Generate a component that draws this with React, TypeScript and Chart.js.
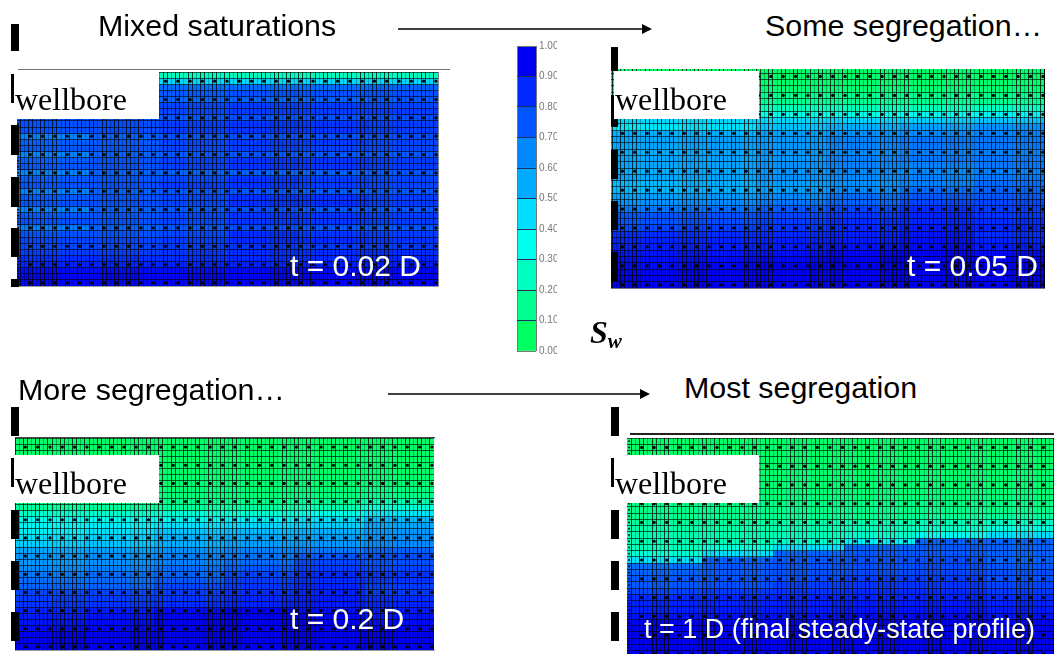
import React, { useEffect, useRef } from "react";
import { Chart, registerables } from "chart.js";

Chart.register(...registerables);

// Saturation legend
const swBinColors = ["#00ff60", "#00ff90", "#00ffc0", "#00ffee", "#00ddff", "#00aaff", "#0088ff", "#0055ff", "#0028ff", "#0000f0"];
const swBinCentres = [0.05, 0.15, 0.25, 0.35, 0.45, 0.55, 0.65, 0.75, 0.85, 0.95];
const swTickValues = [0, 0.1, 0.2, 0.3, 0.4, 0.5, 0.6, 0.7, 0.8, 0.9, 1];

// Vertical grid-line strength repeating over three columns
const gridLineAlpha = [0.78, 0.74, 0.3];

// Sw per grid row (top to bottom), six zones left to right
const rowsA = [
  [.25,.25,.25,.25,.25,.25],[.46,.46,.46,.46,.46,.46],[.70,.70,.70,.70,.70,.72],[.74,.74,.74,.76,.76,.76],[.72,.72,.72,.72,.72,.74],
  [.76,.76,.78,.80,.80,.78],[.76,.76,.78,.80,.80,.80],[.74,.74,.74,.75,.75,.76],[.76,.77,.80,.82,.82,.80],[.76,.77,.80,.82,.82,.80],
  [.66,.72,.74,.75,.75,.76],[.73,.74,.78,.80,.80,.78],[.74,.75,.78,.80,.79,.78],[.66,.72,.74,.74,.74,.74],[.73,.75,.79,.82,.82,.80],
  [.74,.75,.79,.82,.82,.80],[.66,.72,.72,.72,.72,.74],[.74,.75,.78,.82,.80,.78],[.75,.76,.80,.82,.80,.78],[.66,.72,.74,.74,.73,.74],
  [.74,.75,.78,.83,.83,.80],[.75,.76,.78,.83,.83,.80],[.66,.72,.74,.76,.74,.74],[.74,.75,.78,.82,.82,.80],[.76,.76,.78,.82,.82,.80],
  [.67,.72,.74,.76,.74,.74],[.76,.76,.78,.84,.82,.80],[.78,.78,.80,.84,.84,.82],[.78,.78,.80,.82,.80,.80],[.80,.80,.82,.84,.84,.84],
  [.84,.84,.84,.85,.85,.86],[.86,.86,.86,.86,.88,.88],[.92,.92,.92,.93,.93,.93],[.94,.94,.94,.94,.94,.94],[.93,.93,.93,.94,.94,.94],
];
const rowsB = [
  [.07,.07,.07,.07,.07,.07],[.07,.07,.07,.07,.07,.07],[.08,.08,.08,.08,.08,.08],[.10,.10,.10,.10,.10,.10],[.14,.14,.14,.14,.14,.14],
  [.16,.16,.16,.16,.16,.16],[.24,.24,.24,.24,.24,.26],[.34,.34,.34,.34,.36,.38],[.46,.46,.46,.47,.48,.50],[.42,.44,.50,.54,.58,.62],
  [.54,.54,.58,.62,.64,.66],[.56,.58,.60,.66,.68,.68],[.56,.58,.60,.66,.68,.68],[.54,.56,.60,.64,.66,.66],[.56,.57,.60,.66,.68,.68],
  [.56,.57,.62,.66,.66,.68],[.54,.56,.60,.64,.64,.66],[.56,.57,.62,.64,.66,.68],[.52,.54,.58,.62,.66,.70],[.52,.54,.58,.64,.70,.72],
  [.58,.60,.64,.70,.74,.74],[.62,.64,.68,.72,.78,.78],[.68,.70,.74,.78,.84,.80],[.75,.76,.78,.82,.86,.82],[.75,.77,.80,.84,.86,.84],
  [.78,.80,.82,.85,.88,.86],[.84,.84,.85,.87,.90,.84],[.86,.86,.87,.88,.91,.86],[.87,.87,.88,.90,.92,.88],[.90,.90,.91,.94,.95,.93],
  [.91,.92,.93,.95,.96,.95],[.92,.93,.95,.96,.96,.96],[.94,.95,.96,.97,.97,.97],[.96,.96,.96,.96,.96,.96],[.97,.97,.97,.97,.97,.97],
];
const rowsC = [
  [.07,.07,.07,.07,.07,.07],[.07,.07,.07,.07,.07,.07],[.07,.07,.07,.07,.07,.07],[.07,.07,.07,.07,.07,.07],[.08,.08,.08,.08,.08,.08],
  [.08,.08,.08,.08,.08,.08],[.09,.09,.09,.09,.09,.09],[.09,.09,.09,.09,.09,.10],[.10,.10,.10,.10,.10,.12],[.11,.11,.11,.11,.12,.14],
  [.14,.14,.14,.14,.16,.22],[.18,.18,.18,.19,.22,.30],[.28,.28,.30,.30,.34,.42],[.36,.36,.38,.40,.44,.52],[.38,.40,.44,.46,.48,.56],
  [.40,.44,.50,.52,.54,.60],[.44,.48,.54,.56,.58,.62],[.48,.50,.54,.58,.60,.64],[.56,.58,.62,.66,.68,.72],[.60,.62,.66,.68,.74,.76],
  [.60,.62,.66,.70,.78,.76],[.64,.66,.70,.74,.80,.78],[.68,.70,.72,.78,.84,.82],[.70,.70,.74,.80,.84,.82],[.72,.72,.78,.82,.86,.80],
  [.78,.78,.80,.83,.86,.80],[.80,.80,.82,.85,.88,.84],[.82,.82,.84,.86,.88,.86],[.86,.88,.92,.96,.92,.88],[.88,.90,.94,.97,.94,.90],
  [.90,.92,.95,.97,.96,.92],[.92,.93,.95,.96,.96,.94],[.95,.96,.97,.97,.97,.96],[.96,.96,.97,.97,.97,.97],[.96,.96,.96,.96,.96,.96],
];
const rowsD = [
  [.07,.07,.07,.07,.07,.07],[.07,.07,.07,.07,.07,.07],[.07,.07,.07,.07,.07,.07],[.07,.07,.07,.07,.07,.07],[.08,.08,.08,.08,.08,.08],
  [.08,.08,.08,.08,.08,.08],[.09,.09,.09,.09,.09,.09],[.09,.09,.09,.09,.09,.09],[.10,.10,.10,.10,.10,.10],[.11,.11,.11,.11,.11,.11],
  [.13,.13,.13,.13,.13,.13],[.14,.14,.14,.14,.14,.14],[.15,.15,.15,.15,.16,.18],[.18,.18,.20,.22,.24,.26],[.20,.20,.22,.24,.26,.32],
  [.22,.22,.24,.28,.36,.44],[.23,.24,.28,.40,.72,.72],[.24,.30,.44,.72,.74,.72],[.30,.44,.72,.74,.74,.72],[.44,.72,.74,.75,.76,.72],
  [.70,.74,.75,.76,.77,.74],[.72,.74,.76,.77,.78,.76],[.74,.75,.77,.80,.80,.76],[.74,.76,.80,.82,.82,.78],[.78,.80,.82,.84,.84,.80],
  [.84,.85,.86,.86,.86,.84],[.86,.86,.87,.88,.88,.86],[.87,.88,.88,.90,.90,.88],[.90,.90,.90,.92,.92,.90],[.94,.94,.94,.95,.95,.94],
  [.96,.96,.96,.96,.96,.96],[.96,.96,.97,.97,.97,.96],[.97,.97,.97,.97,.97,.97],[.97,.97,.97,.97,.97,.97],[.97,.97,.97,.97,.97,.97],
];

const titleLabels = ["Mixed saturations", "Some segregation…", "More segregation…", "Most segregation"];
const timeLabels = ["t = 0.02 D", "t = 0.05 D", "t = 0.2 D", "t = 1 D (final steady-state profile)"];

function swColor(v: number): string {
  const toRgb = (h: string) => [1, 3, 5].map((i) => parseInt(h.slice(i, i + 2), 16));
  if (v <= swBinCentres[0]) return swBinColors[0];
  for (let i = 1; i < swBinCentres.length; i++) {
    if (v <= swBinCentres[i]) {
      const t = (v - swBinCentres[i - 1]) / (swBinCentres[i] - swBinCentres[i - 1]);
      const a = toRgb(swBinColors[i - 1]);
      const b = toRgb(swBinColors[i]);
      return `rgb(${a.map((c, k) => Math.round(c + (b[k] - c) * t)).join(",")})`;
    }
  }
  return swBinColors[swBinColors.length - 1];
}

type PanelProps = {
  rows: number[][];
  columns: number;
  box: { left: number; top: number; width: number; height: number };
  clip: { left: number; top: number; right: number; bottom: number };
};

function Panel({ rows, columns, box, clip }: PanelProps) {
  const ref = useRef<HTMLCanvasElement>(null);
  useEffect(() => {
    const labels = Array.from({ length: columns }, (_, i) => i);
    const zones = rows[0].length;
    const rowSets: any[] = rows.map((row) => ({
      type: "bar",
      data: labels.map(() => 1),
      backgroundColor: labels.map((c) => swColor(row[Math.floor((c / columns) * zones)])),
      barPercentage: 1,
      categoryPercentage: 1,
      borderWidth: 0,
      order: 2,
    }));
    const dots: { x: number; y: number }[] = [];
    rows.forEach((_, r) => {
      labels.forEach((c) => {
        if (c === 0 || (c % 3 === 0 && r % 3 === 1)) dots.push({ x: c, y: r + 0.5 });
      });
    });
    const chart = new Chart(ref.current!, {
      type: "bar",
      data: {
        labels,
        datasets: [
          ...rowSets,
          {
            type: "line",
            data: dots,
            showLine: false,
            pointStyle: "circle",
            pointRadius: (ctx: any) => (ctx.raw.x === 0 ? 0.9 : 1.6),
            pointBackgroundColor: "#000",
            pointBorderWidth: 0,
            order: 1,
          } as any,
        ],
      },
      options: {
        animation: false,
        responsive: false,
        layout: { padding: 0, autoPadding: false },
        plugins: { legend: { display: false }, tooltip: { enabled: false } },
        scales: {
          x: {
            stacked: true,
            offset: true,
            border: { display: false },
            ticks: { display: false, autoSkip: false },
            grid: {
              z: 1,
              offset: true,
              drawTicks: false,
              lineWidth: 1,
              color: (ctx: any) => `rgba(0,0,0,${gridLineAlpha[ctx.index % gridLineAlpha.length]})`,
            },
          },
          y: {
            stacked: true,
            reverse: true,
            min: 0,
            max: rows.length,
            border: { display: false },
            ticks: { display: false, stepSize: 1, maxTicksLimit: 200 },
            grid: { z: 1, drawTicks: false, lineWidth: 1, color: "rgba(0,0,0,0.62)" },
          },
        },
      } as any,
    });
    return () => chart.destroy();
  }, [rows, columns, box.width, box.height]);
  return (
    <div style={{ position: "absolute", left: clip.left, top: clip.top, width: clip.right - clip.left, height: clip.bottom - clip.top, overflow: "hidden" }}>
      <canvas
        ref={ref}
        width={box.width}
        height={box.height}
        style={{ position: "absolute", left: box.left - clip.left, top: box.top - clip.top, width: box.width, height: box.height, filter: "blur(0.3px)" }}
      />
    </div>
  );
}

function ColorBar() {
  const ref = useRef<HTMLCanvasElement>(null);
  useEffect(() => {
    const chart = new Chart(ref.current!, {
      type: "bar",
      data: {
        labels: ["Sw"],
        datasets: swBinColors.map((c) => ({
          data: [0.1],
          backgroundColor: c,
          barPercentage: 1,
          categoryPercentage: 1,
          borderWidth: 0,
        })),
      },
      options: {
        animation: false,
        responsive: false,
        layout: { padding: { top: 3, bottom: 3, left: 1, right: 0 }, autoPadding: false },
        plugins: { legend: { display: false }, tooltip: { enabled: false } },
        scales: {
          x: {
            stacked: true,
            border: { display: false },
            ticks: { display: false },
            grid: { drawTicks: false, color: "#777", z: 1 },
          },
          y: {
            stacked: true,
            position: "right",
            min: 0,
            max: 1,
            afterBuildTicks: (s: any) => {
              s.ticks = swTickValues.map((value) => ({ value }));
            },
            afterFit: (s: any) => {
              s.width = 21;
            },
            border: { display: false },
            ticks: {
              padding: 3,
              color: "#777",
              font: { family: "Liberation Sans", size: 10 },
              callback: (v: any) => Number(v).toFixed(2),
            },
            grid: {
              z: 1,
              drawTicks: false,
              color: (ctx: any) => (ctx.tick.value === 0 || ctx.tick.value === 1 ? "#777" : "#1a3060"),
            },
          },
        },
      } as any,
    });
    return () => chart.destroy();
  }, []);
  return <canvas ref={ref} width={41} height={323} style={{ position: "absolute", left: 516, top: 37, width: 41, height: 323 }} />;
}

const Text = ({ x, y, size, color = "#000", font = "Liberation Sans", children, style }: any) => (
  <div style={{ position: "absolute", left: x, top: y, transform: "translateY(-50%)", fontFamily: font, fontSize: size, color, whiteSpace: "nowrap", lineHeight: 1, ...style }}>{children}</div>
);

const Rect = ({ x, y, w, h, c = "#000" }: any) => <div style={{ position: "absolute", left: x, top: y, width: w, height: h, background: c }} />;

const Arrow = ({ x1, x2, y }: any) => (
  <svg style={{ position: "absolute", left: x1, top: y - 6, overflow: "visible" }} width={x2 - x1} height={12}>
    <line x1={0} y1={6} x2={x2 - x1 - 8} y2={6} stroke="#000" strokeWidth={1.4} />
    <polygon points={`${x2 - x1 - 10},1 ${x2 - x1},6 ${x2 - x1 - 10},11`} fill="#000" />
  </svg>
);

export default function App() {
  return (
    <div style={{ position: "absolute", left: 0, top: 0, width: 1054, height: 654, overflow: "hidden", background: "#fff" }}>
      <Panel rows={rowsA} columns={103} box={{ left: 16, top: 72, width: 422, height: 214 }} clip={{ left: 17, top: 72, right: 439, bottom: 286 }} />
      <Panel rows={rowsB} columns={106} box={{ left: 608, top: 67, width: 437, height: 221 }} clip={{ left: 611, top: 69, right: 1045, bottom: 288 }} />
      <Panel rows={rowsC} columns={103} box={{ left: 11, top: 438, width: 423, height: 212 }} clip={{ left: 15, top: 437, right: 435, bottom: 650 }} />
      <Panel rows={rowsD} columns={103} box={{ left: 627, top: 438, width: 431, height: 219 }} clip={{ left: 627, top: 438, right: 1054, bottom: 654 }} />
      <ColorBar />

      {/* panel frames */}
      <Rect x={18} y={69} w={432} h={1} c="#777" />
      <Rect x={17} y={286} w={422} h={1} c="#999" />
      <Rect x={438} y={72} w={1} h={214} c="#888" />
      <Rect x={611} y={288} w={434} h={1} c="#778" />
      <Rect x={15} y={650} w={420} h={1} c="#999" />
      <Rect x={15} y={437} w={420} h={1} c="#444" />
      <Rect x={630} y={433} w={424} h={2} c="#222" />

      {/* wellbore boxes */}
      <Rect x={16} y={70} w={143} h={49} c="#fff" />
      <Rect x={614} y={71} w={145} h={48} c="#fff" />
      <Rect x={15} y={455} w={144} h={48} c="#fff" />
      <Rect x={613} y={455} w={146} h={48} c="#fff" />

      {/* perforation bars */}
      {[[11, 24, 8, 27], [11, 74, 3, 29], [11, 125, 8, 30], [11, 177, 8, 30], [11, 228, 8, 29], [11, 279, 8, 8],
        [611, 47, 7, 24], [611, 95, 3, 24], [611, 119, 7, 8], [611, 150, 7, 29], [611, 201, 7, 29], [611, 252, 7, 29],
        [11, 407, 8, 29], [11, 458, 3, 29], [11, 510, 8, 29], [11, 561, 8, 29], [11, 612, 8, 29],
        [611, 407, 8, 29], [611, 458, 3, 29], [611, 510, 8, 29], [611, 561, 8, 29], [611, 612, 8, 29]].map(([x, y, w, h], i) => (
        <Rect key={i} x={x} y={y} w={w} h={h} />
      ))}

      <Text x={15} y={99} size={32} font="Liberation Serif">wellbore</Text>
      <Text x={615} y={99} size={32} font="Liberation Serif">wellbore</Text>
      <Text x={15} y={483} size={32} font="Liberation Serif">wellbore</Text>
      <Text x={615} y={483} size={32} font="Liberation Serif">wellbore</Text>

      <Text x={98} y={25} size={30.4}>{titleLabels[0]}</Text>
      <Text x={765} y={25} size={30.4}>{titleLabels[1]}</Text>
      <Text x={18} y={389} size={30.4}>{titleLabels[2]}</Text>
      <Text x={684} y={387} size={30.4}>{titleLabels[3]}</Text>

      <Text x={290} y={266} size={30} color="#fff">{timeLabels[0]}</Text>
      <Text x={907} y={266} size={30} color="#fff">{timeLabels[1]}</Text>
      <Text x={290} y={619} size={30} color="#fff">{timeLabels[2]}</Text>
      <Text x={644} y={629} size={27} color="#fff">{timeLabels[3]}</Text>

      <Arrow x1={398} x2={652} y={29} />
      <Arrow x1={388} x2={650} y={394} />

      <div style={{ position: "absolute", left: 590, top: 316, fontFamily: "Liberation Serif", fontWeight: "bold", fontStyle: "italic", fontSize: 32, lineHeight: 1 }}>
        S<span style={{ fontSize: 21, position: "relative", top: 5 }}>w</span>
      </div>
    </div>
  );
}
